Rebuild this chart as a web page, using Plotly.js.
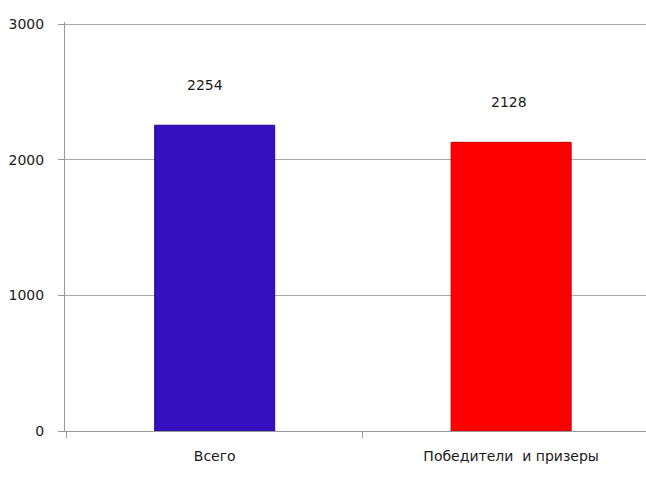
<!DOCTYPE html>
<html>
<head>
<meta charset="utf-8">
<script src="https://cdn.plot.ly/plotly-3.0.1.min.js"></script>
<style>html,body{margin:0;padding:0;background:#fff;}#chart{width:646px;height:477px;}</style>
</head>
<body>
<div id="chart"></div>
<script>
var categories = ["Всего", "Победители  и призеры"];
var values = [2254, 2128];
var barColors = ["#3510BE", "#FF0000"];
var yTicks = [0, 1000, 2000, 3000];

var trace = {
  type: "bar",
  x: categories,
  y: values,
  width: 0.405,
  marker: {color: barColors, line: {color: ["#2a0a90", "#c80000"], width: 1}},
  hoverinfo: "none"
};

var annotations = values.map(function (v, i) {
  return {
    x: categories[i], y: v, xref: "x", yref: "y",
    text: String(v), showarrow: false, yshift: 40, xshift: i === 0 ? -10 : -2,
    font: {family: "DejaVu Sans, sans-serif", size: 14, color: "#1a1a1a"}
  };
});

var layout = {
  width: 646, height: 477,
  margin: {l: 65, r: 0, t: 22, b: 46},
  paper_bgcolor: "#fff", plot_bgcolor: "#fff",
  showlegend: false,
  font: {family: "DejaVu Sans, sans-serif", size: 14, color: "#1a1a1a"},
  xaxis: {
    type: "category",
    range: [-0.505, 1.455],
    tickson: "boundaries",
    ticks: "outside", ticklen: 6, tickcolor: "#999", tickwidth: 1,
    showline: true, linecolor: "#999", linewidth: 1,
    showgrid: false, zeroline: false,
    tickfont: {size: 14, color: "#1a1a1a"},
    ticklabelstandoff: 12
  },
  yaxis: {
    range: [0, 3015],
    tickvals: yTicks,
    ticks: "outside", ticklen: 6, tickcolor: "#999",
    showline: true, linecolor: "#999", linewidth: 1,
    showgrid: true, gridcolor: "#a8a8a8", gridwidth: 1,
    zeroline: false,
    tickfont: {size: 14, color: "#1a1a1a"},
    ticklabelstandoff: 11
  },
  annotations: annotations
};

Plotly.newPlot("chart", [trace], layout, {displayModeBar: false, staticPlot: true});
</script>
</body>
</html>
